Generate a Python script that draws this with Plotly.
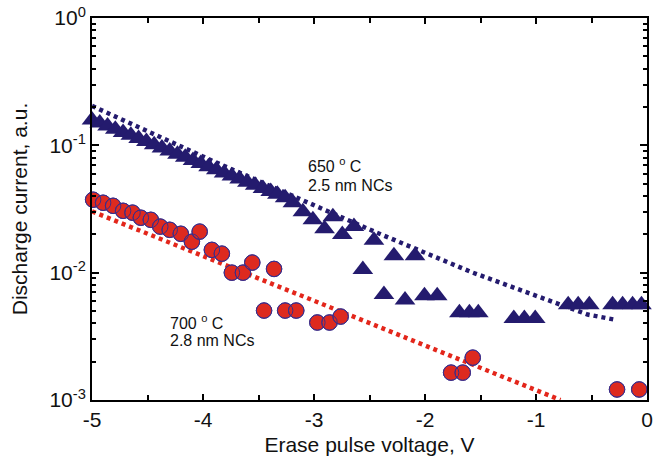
import plotly.graph_objects as go

# 650 C anneal, 2.5 nm nanocrystals (triangles)
v_650 = [-5.00, -4.93, -4.86, -4.79, -4.72, -4.65, -4.58, -4.51, -4.44, -4.37,
         -4.30, -4.23, -4.16, -4.09, -4.02, -3.95, -3.88, -3.81, -3.74, -3.67,
         -3.60, -3.53, -3.46, -3.39, -3.33, -3.26, -3.19, -3.10, -3.01, -2.905,
         -2.83, -2.745, -2.64, -2.56, -2.46, -2.37, -2.28, -2.18, -2.09, -2.005,
         -1.89, -1.69, -1.60, -1.52, -1.20, -1.105, -1.007, -0.71, -0.62, -0.52,
         -0.31, -0.22, -0.13, -0.05]
i_650 = [0.158, 0.150, 0.142, 0.134, 0.126, 0.120, 0.113, 0.107, 0.101, 0.0954,
         0.0902, 0.0852, 0.0805, 0.0761, 0.0719, 0.0680, 0.0643, 0.0607, 0.0574, 0.0543,
         0.0513, 0.0485, 0.0458, 0.0433, 0.0412, 0.0387, 0.0354, 0.0301, 0.0260, 0.0221,
         0.0275, 0.0199, 0.0230, 0.0106, 0.0180, 0.00675, 0.0136, 0.0061, 0.0136, 0.0066,
         0.0066, 0.00485, 0.00485, 0.00485, 0.00436, 0.00436, 0.00436, 0.0056, 0.0056, 0.0056,
         0.0056, 0.0056, 0.0056, 0.0056]

# 700 C anneal, 2.8 nm nanocrystals (circles)
v_700 = [-4.99, -4.90, -4.81, -4.72, -4.635, -4.56, -4.47, -4.385, -4.30, -4.20,
         -4.10, -4.03, -3.92, -3.83, -3.74, -3.64, -3.556, -3.45, -3.36, -3.26,
         -3.16, -2.97, -2.86, -2.76, -1.765, -1.66, -1.57, -0.27, -0.07]
i_700 = [0.0374, 0.0354, 0.0335, 0.0306, 0.0296, 0.0270, 0.0260, 0.0230, 0.0217, 0.0202,
         0.0175, 0.0210, 0.0151, 0.0141, 0.0100, 0.0100, 0.0120, 0.00504, 0.0107, 0.00504,
         0.00504, 0.00406, 0.00406, 0.00452, 0.00164, 0.00164, 0.00215, 0.00121, 0.00121]

# Exponential fits (dotted)
fit_650_v = [-5.0, -3.895, -2.433, -1.569, -0.535, -0.294]
fit_650_i = [0.204, 0.0742, 0.0206, 0.0100, 0.00469, 0.00428]
fit_700_v = [-5.0, -0.78]
fit_700_i = [0.0303, 0.001]

y_tickvals = [0.001, 0.01, 0.1, 1]
y_ticktext = ["10<sup>-3</sup>", "10<sup>-2</sup>", "10<sup>-1</sup>", "10<sup>0</sup>"]
x_tickvals = [-5, -4, -3, -2, -1, 0]
x_ticktext = ["-5", "-4", "-3", "-2", "-1", "0"]

# minor ticks: 2..9 within each decade, and half-volt steps
y_minor = [m * d for d in (0.001, 0.01, 0.1) for m in range(2, 10)]
x_minor = [-4.5, -3.5, -2.5, -1.5, -0.5]

NAVY = "#241b6e"
RED = "#dd2a1f"
RED_LINE = "#e3261b"
EDGE = "#3b2d8a"
FONT = "Liberation Sans, Arial, sans-serif"

fig = go.Figure()

fig.add_trace(go.Scatter(x=fit_700_v, y=fit_700_i, mode="lines",
                         line=dict(color=RED_LINE, width=4.5, dash="4px,4px"),
                         hoverinfo="skip"))
fig.add_trace(go.Scatter(x=fit_650_v, y=fit_650_i, mode="lines",
                         line=dict(color=NAVY, width=4.5, dash="4px,4px"),
                         hoverinfo="skip"))

fig.add_trace(go.Scatter(x=v_650, y=i_650, mode="markers", cliponaxis=False,
                         marker=dict(symbol="triangle-up", size=18, color=NAVY,
                                     line=dict(width=0))))

fig.add_trace(go.Scatter(x=v_700, y=i_700, mode="markers", cliponaxis=False,
                         marker=dict(symbol="circle", size=15.5, color=RED,
                                     line=dict(width=1, color=EDGE))))
# circle outlines stay visible where neighbouring circles overlap
fig.add_trace(go.Scatter(x=v_700, y=i_700, mode="markers", cliponaxis=False,
                         marker=dict(symbol="circle", size=15.5, color="rgba(0,0,0,0)",
                                     line=dict(width=1, color=EDGE))))

ann_font = dict(family=FONT, size=16, color="#111111")
labels = [
    (-3.075, -1.153, "650 <sup>o</sup> C"),
    (-3.075, -1.318, "2.5 nm NCs"),
    (-4.314, -2.39, "700 <sup>o</sup> C"),
    (-4.314, -2.53, "2.8 nm NCs"),
]
for lx, ly, txt in labels:
    fig.add_annotation(x=lx, y=ly, xref="x", yref="y", text=txt, showarrow=False,
                       xanchor="left", yanchor="middle", font=ann_font)

axis_common = dict(showline=True, linecolor="black", linewidth=2, mirror="ticks",
                   ticks="inside", tickcolor="black", tickwidth=1.5,
                   showgrid=False, zeroline=False,
                   tickfont=dict(family=FONT, size=21, color="#111111"))

fig.update_xaxes(range=[-5, 0], tickvals=x_tickvals, ticktext=x_ticktext, ticklen=6,
                 minor=dict(tickvals=x_minor, ticks="inside", ticklen=5, tickcolor="black",
                            tickwidth=1.5, showgrid=False),
                 title=dict(text="Erase pulse voltage, V", standoff=7,
                            font=dict(family=FONT, size=21, color="#111111")),
                 **axis_common)
fig.update_yaxes(type="log", range=[-3, 0], tickvals=y_tickvals, ticktext=y_ticktext,
                 ticklen=7,
                 minor=dict(tickvals=y_minor, ticks="inside", ticklen=4, tickcolor="black",
                            tickwidth=1.5, showgrid=False),
                 title=dict(text="Discharge current, a.u.", standoff=16,
                            font=dict(family=FONT, size=21, color="#111111")),
                 **axis_common)

fig.update_layout(width=657, height=464, showlegend=False,
                  margin=dict(l=92, r=4, t=18, b=64),
                  paper_bgcolor="white", plot_bgcolor="white")

fig.write_html("out.html")
